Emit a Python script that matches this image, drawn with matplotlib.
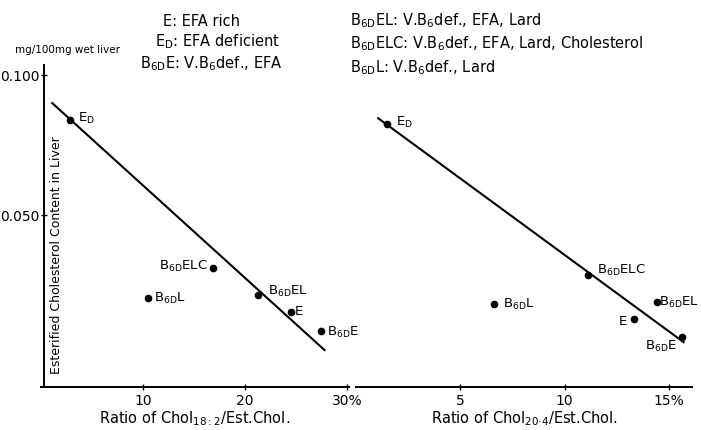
import matplotlib
matplotlib.use("Agg")
import matplotlib.pyplot as plt

plt.rcParams['font.family'] = ['DejaVu Sans']
plt.rcParams['mathtext.default'] = 'regular'

# Group labels
groups = ["E$_D$", "B$_{6D}$ELC", "B$_{6D}$L", "B$_{6D}$EL", "E", "B$_{6D}$E"]

# Ratio of Chol 18:2 / Est.Chol (%) and esterified cholesterol (mg/100mg wet liver)
x18 = [2.8, 16.9, 10.5, 21.3, 24.5, 27.5]
y18 = [0.0839, 0.0311, 0.0204, 0.0214, 0.0154, 0.0086]
fit18_x = [1.1, 27.8]
fit18_y = [0.0900, 0.0018]

# Ratio of Chol 20:4 / Est.Chol (%)
x20 = [1.5, 11.1, 6.6, 14.4, 13.3, 15.6]
y20 = [0.0825, 0.0286, 0.0182, 0.0189, 0.0129, 0.0064]
fit20_x = [1.06, 15.7]
fit20_y = [0.0846, 0.0046]

xt18 = [10, 20, 30]
xt18_lbl = ["10", "20", "30%"]
xt20 = [5, 10, 15]
xt20_lbl = ["5", "10", "15%"]
yt = [0.050, 0.100]
yt_lbl = ["0.050", "0.100"]

# label offsets (points) and alignment for each group in each panel
off18 = [((6, 1), 'left'), ((-4, 1), 'right'), ((4, 0), 'left'),
         ((7, 3), 'left'), ((3, 0), 'left'), ((4, -1), 'left')]
off20 = [((6, 1), 'left'), ((7, 3), 'left'), ((7, 0), 'left'),
         ((2, 0), 'left'), ((-5, -2), 'right'), ((-3, -7), 'right')]

W, H = 701, 430
fig = plt.figure(figsize=(W / 100, H / 100), dpi=100)
ylo, yhi = -0.0114, 0.1036

def panel(x0, x1):
    return fig.add_axes([x0 / W, 1 - 387 / H, (x1 - x0) / W, (387 - 65) / H])

ax1 = panel(41, 349)
ax1.set_xlim(0, 30.2)
ax2 = panel(356, 692)
ax2.set_xlim(0, 16.1)

for ax, xs, ys, fx, fy, xt, xl, offs in [
        (ax1, x18, y18, fit18_x, fit18_y, xt18, xt18_lbl, off18),
        (ax2, x20, y20, fit20_x, fit20_y, xt20, xt20_lbl, off20)]:
    ax.set_ylim(ylo, yhi)
    ax.plot(fx, fy, color='black', lw=1.5)
    ax.plot(xs, ys, 'o', color='black', ms=4.5)
    for g, x, y, (o, ha) in zip(groups, xs, ys, offs):
        ax.annotate(g, (x, y), xytext=o, textcoords='offset points',
                    ha=ha, va='center', fontsize=9.5)
    ax.set_xticks(xt)
    ax.set_xticklabels(xl, fontsize=10)
    for s in ['top', 'right']:
        ax.spines[s].set_visible(False)
    ax.spines['bottom'].set_linewidth(1.4)
    ax.tick_params(axis='x', direction='inout', length=4, width=1, pad=3)
    ax.set_facecolor('none')

ax1.spines['left'].set_linewidth(1.4)
ax1.set_yticks(yt)
ax1.set_yticklabels(yt_lbl, fontsize=8.5)
ax1.tick_params(axis='y', direction='inout', length=4, width=1, pad=1)
ax1.spines['left'].set_position(('data', 0.3))

ax2.spines['left'].set_visible(False)
ax2.set_yticks([])

ax1.set_xlabel("Ratio of Chol$_{18:2}$/Est.Chol.", fontsize=10.5, labelpad=1)
ax2.set_xlabel("Ratio of Chol$_{20\u00b74}$/Est.Chol.", fontsize=10.5, labelpad=1)

# axis title drawn inside the left panel, along the y axis
fig.text(57 / W, 1 - 255 / H, "Esterified Cholesterol Content in Liver",
         rotation=90, ha='center', va='center', fontsize=9)
fig.text(15 / W, 1 - 50 / H, "mg/100mg wet liver", ha='left', va='center',
         fontsize=7.5)

# group key
key_left = ["E: EFA rich", "E$_D$: EFA deficient", "B$_{6D}$E: V.B$_6$def., EFA"]
key_right = ["B$_{6D}$EL: V.B$_6$def., EFA, Lard",
             "B$_{6D}$ELC: V.B$_6$def., EFA, Lard, Cholesterol",
             "B$_{6D}$L: V.B$_6$def., Lard"]
for t, (x, y) in zip(key_left, [(163, 21), (155, 42), (140, 64)]):
    fig.text(x / W, 1 - y / H, t, ha='left', va='center', fontsize=10.5)
for t, y in zip(key_right, [21, 44, 68]):
    fig.text(350 / W, 1 - y / H, t, ha='left', va='center', fontsize=10.5)

fig.savefig("out.png", dpi=100)
